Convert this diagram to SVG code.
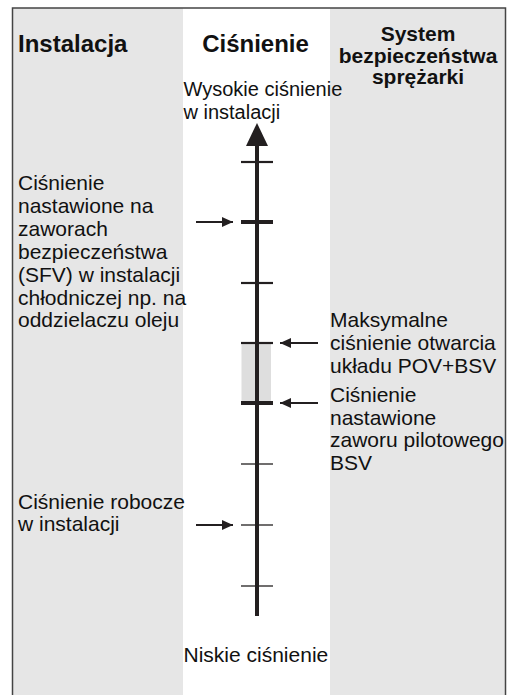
<svg xmlns="http://www.w3.org/2000/svg" width="510" height="695" viewBox="0 0 510 695">
<defs>
<style>
.col{fill:#e6e6e6}
.t{font-family:"Liberation Sans",Arial,sans-serif;font-size:21px;fill:#111}
.h{font-family:"Liberation Sans",Arial,sans-serif;font-weight:bold;fill:#111}
.tick{stroke:#231f20}
.arr{stroke:#231f20;stroke-width:2;fill:none}
</style>
<marker id="ah" viewBox="0 0 11 10" refX="11" refY="5" markerWidth="11" markerHeight="10" markerUnits="userSpaceOnUse" orient="auto">
<path d="M0,0 L11,5 L0,10 Z" fill="#231f20"/>
</marker>
</defs>
<rect x="0" y="0" width="510" height="695" fill="#fff"/>
<g id="columns">
<rect class="col" x="13" y="8" width="170" height="700"/>
<rect class="col" x="330" y="8" width="175" height="700"/>
<rect x="12.5" y="8" width="493" height="700" fill="none" stroke="#444" stroke-width="1.5"/>
</g>
<g id="headers">
<text class="h" x="18" y="52" font-size="24">Instalacja</text>
<text class="h" x="255.5" y="52" font-size="24" text-anchor="middle">Ciśnienie</text>
<text class="h" x="418" y="41" font-size="21" text-anchor="middle">System</text>
<text class="h" x="418" y="63" font-size="21" text-anchor="middle">bezpieczeństwa</text>
<text class="h" x="418" y="84" font-size="21" text-anchor="middle">sprężarki</text>
</g>
<g id="axis">
<rect x="241.5" y="343" width="29.5" height="60" fill="#dedede"/>
<line x1="257" y1="145" x2="257" y2="616" stroke="#231f20" stroke-width="4"/>
<path d="M257,123 L268,146 L246,146 Z" fill="#231f20"/>
<line class="tick" x1="241" y1="162" x2="273" y2="162" stroke-width="2.2"/>
<line class="tick" x1="241" y1="222" x2="273" y2="222" stroke-width="4"/>
<line class="tick" x1="241" y1="283" x2="273" y2="283" stroke-width="2.2"/>
<line class="tick" x1="241" y1="343" x2="273" y2="343" stroke-width="2.2"/>
<line class="tick" x1="241" y1="403" x2="273" y2="403" stroke-width="4"/>
<line class="tick" x1="241" y1="464" x2="273" y2="464" stroke-width="1.3"/>
<line class="tick" x1="241" y1="525" x2="273" y2="525" stroke-width="1.3"/>
<line class="tick" x1="241" y1="586" x2="273" y2="586" stroke-width="1.3"/>
</g>
<g id="connectors">
<line class="arr" x1="196" y1="222" x2="233" y2="222" marker-end="url(#ah)"/>
<line class="arr" x1="196" y1="525" x2="233" y2="525" marker-end="url(#ah)"/>
<line class="arr" x1="318" y1="343" x2="280" y2="343" marker-end="url(#ah)"/>
<line class="arr" x1="318" y1="403" x2="280" y2="403" marker-end="url(#ah)"/>
</g>
<g id="label-high">
<text class="t" x="183.5" y="96" font-size="20" style="font-size:20px">Wysokie ciśnienie</text>
<text class="t" x="183.5" y="119" style="font-size:20px">w instalacji</text>
</g>
<g id="label-sfv">
<text class="t" x="18" y="190">Ciśnienie</text>
<text class="t" x="18" y="213">nastawione na</text>
<text class="t" x="18" y="236">zaworach</text>
<text class="t" x="18" y="258.5">bezpieczeństwa</text>
<text class="t" x="18" y="281.5">(SFV) w instalacji</text>
<text class="t" x="18" y="304.5">chłodniczej np. na</text>
<text class="t" x="18" y="327">oddzielaczu oleju</text>
</g>
<g id="label-max">
<text class="t" x="330" y="327">Maksymalne</text>
<text class="t" x="330" y="350">ciśnienie otwarcia</text>
<text class="t" x="330" y="373">układu POV+BSV</text>
</g>
<g id="label-bsv">
<text class="t" x="330" y="402">Ciśnienie</text>
<text class="t" x="330" y="424.5">nastawione</text>
<text class="t" x="330" y="447">zaworu pilotowego</text>
<text class="t" x="330" y="469.5">BSV</text>
</g>
<g id="label-work">
<text class="t" x="18" y="508.5">Ciśnienie robocze</text>
<text class="t" x="18" y="531">w instalacji</text>
</g>
<g id="label-low">
<text class="t" x="183.5" y="662">Niskie ciśnienie</text>
</g>
</svg>
